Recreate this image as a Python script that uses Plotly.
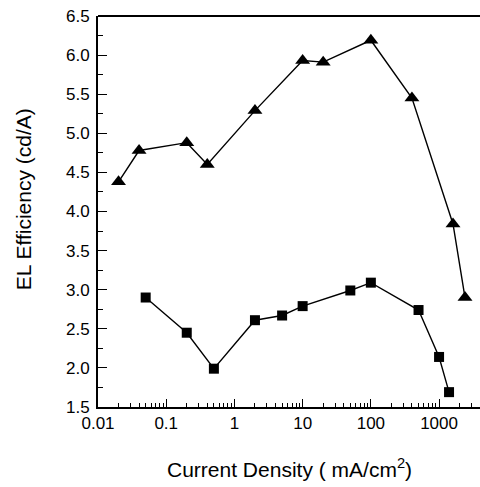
import plotly.graph_objects as go

tri_x = [0.02, 0.04, 0.2, 0.4, 2, 10, 20, 100, 400, 1600, 2400]
tri_y = [4.38, 4.78, 4.88, 4.60, 5.29, 5.93, 5.91, 6.19, 5.45, 3.84, 2.90]
sq_x = [0.05, 0.2, 0.5, 2, 5, 10, 50, 100, 500, 1000, 1400]
sq_y = [2.90, 2.45, 1.99, 2.61, 2.67, 2.79, 2.99, 3.09, 2.74, 2.14, 1.69]

x_tickvals = [0.01, 0.1, 1, 10, 100, 1000]
x_ticktext = ["0.01", "0.1", "1", "10", "100", "1000"]
y_tickvals = [1.5, 2.0, 2.5, 3.0, 3.5, 4.0, 4.5, 5.0, 5.5, 6.0, 6.5]
y_ticktext = ["1.5", "2.0", "2.5", "3.0", "3.5", "4.0", "4.5", "5.0", "5.5", "6.0", "6.5"]

x_title = "Current Density ( mA/cm<sup>2</sup>)"
y_title = "EL Efficiency (cd/A)"

FONT = "Arial, Liberation Sans, sans-serif"

fig = go.Figure()
fig.add_trace(go.Scatter(x=tri_x, y=tri_y, mode="lines+markers",
                         line=dict(color="black", width=1.4),
                         marker=dict(symbol="triangle-up", size=13, color="black"),
                         showlegend=False))
fig.add_trace(go.Scatter(x=sq_x, y=sq_y, mode="lines+markers",
                         line=dict(color="black", width=1.4),
                         marker=dict(symbol="square", size=10, color="black"),
                         showlegend=False))

fig.add_shape(type="line", xref="paper", yref="paper", x0=0, x1=1, y0=1, y1=1,
              line=dict(color="black", width=1.8))

fig.add_annotation(text=x_title, xref="paper", yref="paper", x=0.5, y=-0.155,
                   xanchor="center", yanchor="middle", showarrow=False,
                   font=dict(family=FONT, size=21, color="black"))
fig.add_annotation(text=y_title, xref="paper", yref="paper", x=-0.195, y=0.53,
                   xanchor="center", yanchor="middle", showarrow=False, textangle=-90,
                   font=dict(family=FONT, size=21, color="black"))

fig.update_layout(
    width=480, height=487,
    margin=dict(l=98, r=0, t=16, b=80),
    plot_bgcolor="white", paper_bgcolor="white",
    font=dict(family=FONT, size=17, color="black"),
    xaxis=dict(type="log", range=[-2, 3.6], showgrid=False, zeroline=False,
               showline=True, linecolor="black", linewidth=1.8,
               ticks="inside", ticklen=8, tickwidth=1.4, tickcolor="black",
               tickvals=x_tickvals, ticktext=x_ticktext,
               minor=dict(ticks="inside", ticklen=4, tickwidth=1.3, tickcolor="black",
                          dtick="D1", showgrid=False)),
    yaxis=dict(range=[1.5, 6.5], showgrid=False, zeroline=False,
               showline=True, linecolor="black", linewidth=1.8,
               ticks="inside", ticklen=9, tickwidth=1.4, tickcolor="black",
               tickvals=y_tickvals, ticktext=y_ticktext, ticklabelstandoff=3,
               minor=dict(ticks="inside", ticklen=5, tickwidth=1.3, tickcolor="black",
                          dtick=0.25, showgrid=False)),
)

fig.write_html("out.html", config={"displayModeBar": False},
               post_script="document.body.style.margin='0px';document.body.style.overflow='hidden';")
